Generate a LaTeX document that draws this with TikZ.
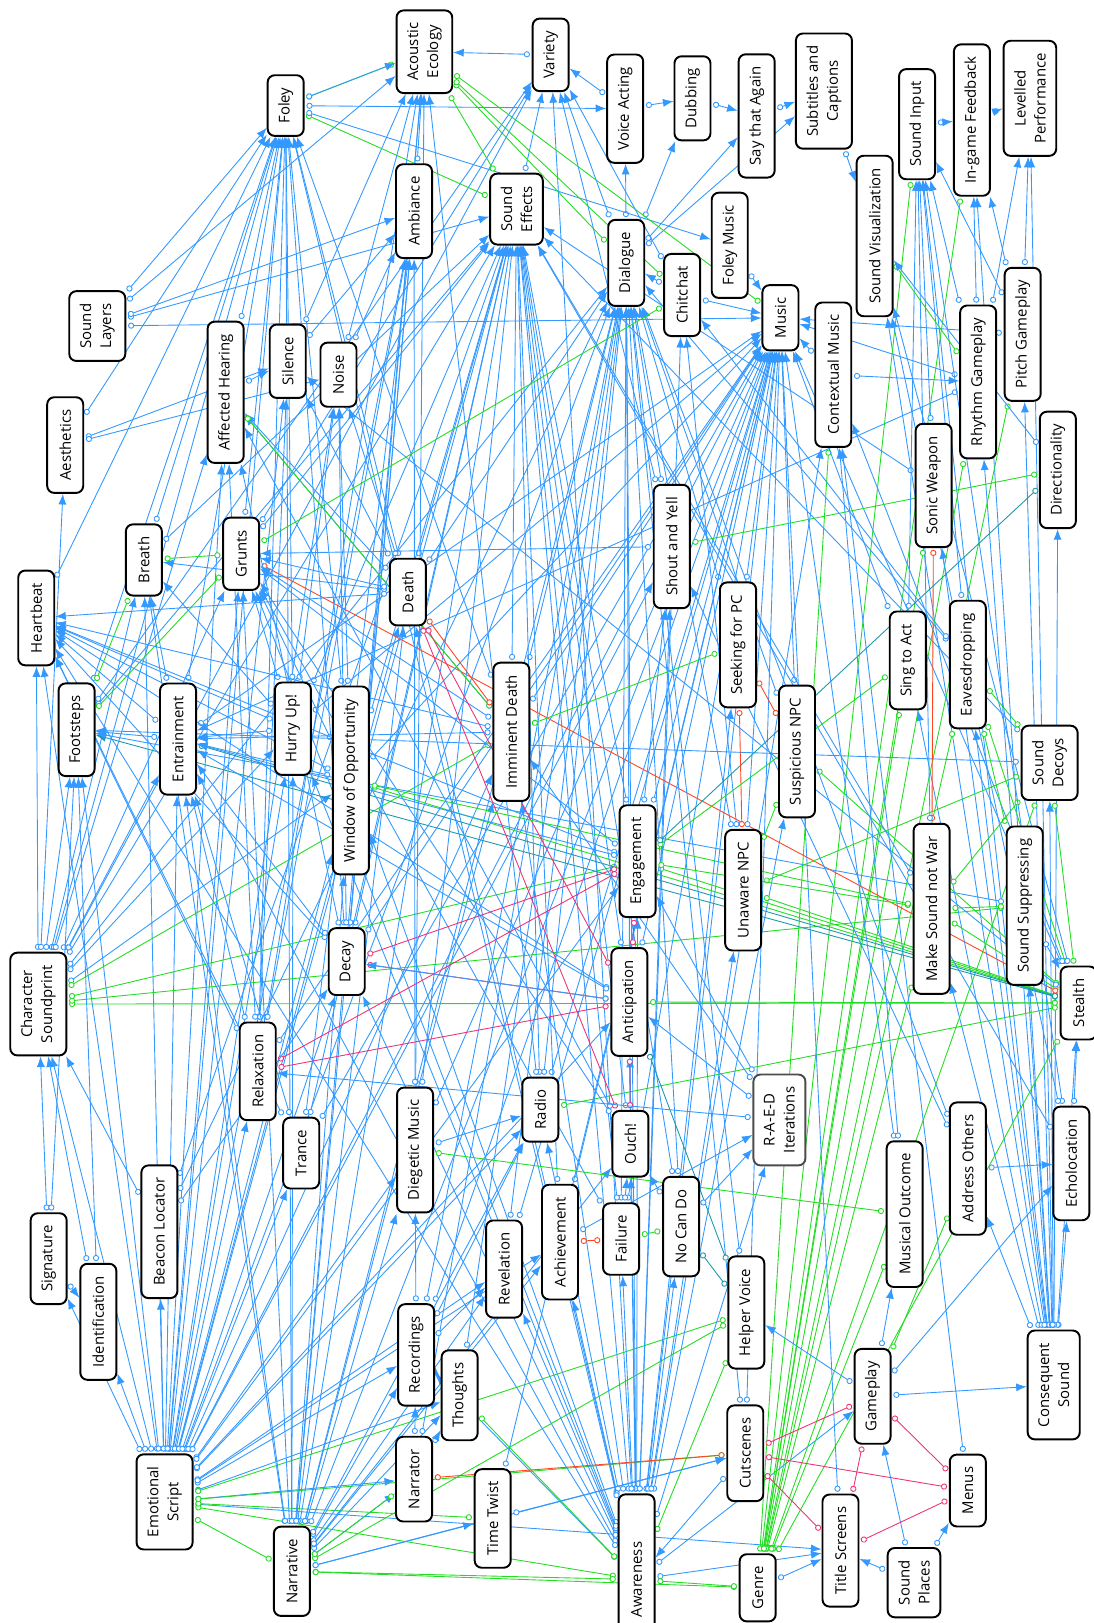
\documentclass[tikz,border=0pt]{standalone}
\usepackage{fontspec}
\setmainfont{Open Sans}
\usepackage{tikz}
\usetikzlibrary{arrows.meta, backgrounds}
\definecolor{eblue}{RGB}{51,153,255}
\definecolor{egreen}{RGB}{34,221,34}
\definecolor{ered}{RGB}{255,69,34}
\definecolor{epink}{RGB}{238,51,119}
\definecolor{eteal}{RGB}{26,153,170}
\tikzset{
  box/.style ={rectangle, rounded corners=4pt, draw, line width=1.1pt, rotate=90, align=center, fill=white,
               inner xsep=7pt, inner ysep=6pt, minimum height=20.5pt, font=\fontsize{8.5}{11.4}\selectfont},
  gbox/.style={box, draw=black!70},
  bl/.style  ={draw=eblue, line width=0.5pt, {Circle[fill=white, length=3.5pt]}-{Latex[length=6pt, width=4.6pt]}, shorten <=1pt},
  gr/.style  ={draw=egreen, line width=0.5pt, {Circle[fill=white, length=3.5pt]}-{Circle[fill=white, length=3.5pt]}, shorten <=1pt, shorten >=1pt},
  rd/.style  ={gr, draw=ered},
  pk/.style  ={gr, draw=epink},
  tl/.style  ={gr, draw=eteal},
  tla/.style ={bl, draw=eteal},
}
\begin{document}
\begin{tikzpicture}[x=0.0207cm, y=-0.0207cm]
  \useasboundingbox (0,0) rectangle (1056,1568);
  \node[box] (acoust) at (410,50) {Acoustic\\Ecology};
  \node[box] (variety) at (532,53) {Variety};
  \node[box] (voice) at (604,105) {Voice Acting};
  \node[box] (dubbing) at (669,95) {Dubbing};
  \node[box] (sayagain) at (731,112) {Say that Again};
  \node[box] (subtitles) at (796,88) {Subtitles and\\Captions};
  \node[box] (sinput) at (886,120) {Sound Input};
  \node[box] (feedback) at (939,116) {In-game Feedback};
  \node[box] (levelled) at (995,95) {Levelled\\Performance};
  \node[box] (foley) at (276,102) {Foley};
  \node[box] (ambiance) at (400,204) {Ambiance};
  \node[box] (sfx) at (499,202) {Sound\\Effects};
  \node[box] (dialogue) at (605,254) {Dialogue};
  \node[box] (foleymus) at (705,237) {Foley Music};
  \node[box] (chitchat) at (659,285) {Chitchat};
  \node[box] (music) at (754,307) {Music};
  \node[box] (soundvis) at (845,228) {Sound Visualization};
  \node[box] (ctxmusic) at (805,362) {Contextual Music};
  \node[box] (rhythm) at (945,369) {Rhythm Gameplay};
  \node[box] (pitch) at (988,323) {Pitch Gameplay};
  \node[box] (layers) at (94,315) {Sound\\Layers};
  \node[box] (affected) at (218,379) {Affected Hearing};
  \node[box] (silence) at (278,349) {Silence};
  \node[box] (noise) at (327,362) {Noise};
  \node[box] (aesth) at (63,430) {Aesthetics};
  \node[box] (direction) at (1022,454) {Directionality};
  \node[box] (sonic) at (902,469) {Sonic Weapon};
  \node[box] (breath) at (139,541) {Breath};
  \node[box] (grunts) at (233,535) {Grunts};
  \node[box] (death) at (394,572) {Death};
  \node[box] (shout) at (649,528) {Shout and Yell};
  \node[box] (heart) at (35,597) {Heartbeat};
  \node[box] (seeking) at (713,623) {Seeking for PC};
  \node[box] (singact) at (877,638) {Sing to Act};
  \node[box] (eaves) at (935,642) {Eavesdropping};
  \node[box] (footsteps) at (74,705) {Footsteps};
  \node[box] (entrain) at (172,714) {Entrainment};
  \node[box] (hurry) at (283,704) {Hurry Up!};
  \node[box] (window) at (339,754) {Window of Opportunity};
  \node[box] (imminent) at (494,707) {Imminent Death};
  \node[box] (suspicious) at (770,726) {Suspicious NPC};
  \node[box] (decoys) at (1014,737) {Sound\\Decoys};
  \node[box] (engage) at (616,832) {Engagement};
  \node[box] (unaware) at (718,860) {Unaware NPC};
  \node[box] (makesound) at (900,878) {Make Sound not War};
  \node[box] (suppress) at (990,875) {Sound Suppressing};
  \node[box] (decay) at (335,929) {Decay};
  \node[box] (soundprint) at (37,970) {Character\\Soundprint};
  \node[box] (anticip) at (608,968) {Anticipation};
  \node[box] (stealth) at (1042,969) {Stealth};
  \node[box] (relax) at (249,1035) {Relaxation};
  \node[box] (radio) at (522,1072) {Radio};
  \node[box] (trance) at (291,1114) {Trance};
  \node[box] (diegetic) at (401,1111) {Diegetic Music};
  \node[box] (ouch) at (609,1105) {Ouch!};
  \node[gbox] (raed) at (753,1082) {R-A-E-D\\Iterations};
  \node[box] (address) at (935,1129) {Address Others};
  \node[box] (echo) at (1035,1124) {Echolocation};
  \node[box] (musout) at (874,1173) {Musical Outcome};
  \node[box] (beacon) at (154,1190) {Beacon Locator};
  \node[box] (signature) at (47,1216) {Signature};
  \node[box] (revel) at (487,1226) {Revelation};
  \node[box] (achieve) at (541,1200) {Achievement};
  \node[box] (failure) at (600,1197) {Failure};
  \node[box] (nocando) at (658,1185) {No Can Do};
  \node[box] (helper) at (721,1268) {Helper Voice};
  \node[box] (ident) at (95,1277) {Identification};
  \node[box] (record) at (402,1309) {Recordings};
  \node[box] (thoughts) at (444,1348) {Thoughts};
  \node[box] (gameplay) at (843,1349) {Gameplay};
  \node[box] (conseq) at (1018,1338) {Consequent\\Sound};
  \node[box] (narrator) at (400,1429) {Narrator};
  \node[box] (cutscenes) at (720,1404) {Cutscenes};
  \node[box] (menus) at (935,1440) {Menus};
  \node[box] (emo) at (159,1451) {Emotional\\Script};
  \node[box] (timetwist) at (476,1467) {Time Twist};
  \node[box] (narrative) at (282,1518) {Narrative};
  \node[box, minimum width=97pt] (awareness) at (615,1526) {Awareness};
  \node[box] (genre) at (732,1534) {Genre};
  \node[box] (titles) at (812,1498) {Title Screens};
  \node[box] (places) at (883,1529) {Sound\\Places};
  \begin{scope}[on background layer]
  \fill[white] (0,0) rectangle (1056,1568);
  \draw[bl] (emo) -- (foley);
  \draw[bl] (emo) -- (heart);
  \draw[bl] (emo) -- (breath);
  \draw[bl] (emo) -- (grunts);
  \draw[bl] (emo) -- (footsteps);
  \draw[bl] (emo) -- (entrain);
  \draw[bl] (emo) -- (soundprint);
  \draw[bl] (emo) -- (ident);
  \draw[bl] (emo) -- (beacon);
  \draw[bl] (emo) -- (relax);
  \draw[bl] (emo) -- (trance);
  \draw[bl] (emo) -- (hurry);
  \draw[bl] (emo) -- (window);
  \draw[bl] (emo) -- (death);
  \draw[bl] (emo) -- (silence);
  \draw[bl] (emo) -- (noise);
  \draw[bl] (emo) -- (affected);
  \draw[bl] (emo) -- (ambiance);
  \draw[bl] (emo) -- (sfx);
  \draw[bl] (emo) -- (dialogue);
  \draw[bl] (emo) -- (music);
  \draw[bl] (emo) -- (decay);
  \draw[bl] (emo) -- (diegetic);
  \draw[bl] (emo) -- (imminent);
  \draw[bl] (emo) -- (record);
  \draw[bl] (emo) -- (thoughts);
  \draw[bl] (emo) -- (narrator);
  \draw[bl] (emo) -- (radio);
  \draw[bl] (emo) -- (revel);
  \draw[bl] (emo) -- (achieve);
  \draw[bl] (emo) -- (anticip);
  \draw[bl] (emo) -- (engage);
  \draw[bl] (emo) -- (shout);
  \draw[bl] (emo) -- (signature);
  \draw[bl] (emo) -- (titles);
  \draw[gr] (emo) -- (narrative);
  \draw[gr] (emo) -- (awareness);
  \draw[gr] (emo) -- (timetwist);
  \draw[gr] (emo) -- (helper);
  \draw[gr] (emo) -- (cutscenes);
  \draw[bl] (narrative) -- (foley);
  \draw[bl] (narrative) -- (sfx);
  \draw[bl] (narrative) -- (dialogue);
  \draw[bl] (narrative) -- (music);
  \draw[bl] (narrative) -- (ambiance);
  \draw[bl] (narrative) -- (grunts);
  \draw[bl] (narrative) -- (breath);
  \draw[bl] (narrative) -- (death);
  \draw[bl] (narrative) -- (window);
  \draw[bl] (narrative) -- (hurry);
  \draw[bl] (narrative) -- (diegetic);
  \draw[bl] (narrative) -- (record);
  \draw[bl] (narrative) -- (thoughts);
  \draw[bl] (narrative) -- (narrator);
  \draw[bl] (narrative) -- (timetwist);
  \draw[bl] (narrative) -- (revel);
  \draw[bl] (narrative) -- (achieve);
  \draw[bl] (narrative) -- (cutscenes);
  \draw[bl] (narrative) -- (imminent);
  \draw[bl] (narrative) -- (radio);
  \draw[bl] (narrative) -- (ouch);
  \draw[bl] (narrative) -- (entrain);
  \draw[bl] (narrative) -- (acoust);
  \draw[gr] (narrative) -- (awareness);
  \draw[gr] (narrative) -- (genre);
  \draw[gr] (narrative) -- (helper);
  \draw[gr] (narrative) -- (narrator);
  \draw[bl] (awareness) -- (sfx);
  \draw[bl] (awareness) -- (dialogue);
  \draw[bl] (awareness) -- (music);
  \draw[bl] (awareness) -- (shout);
  \draw[bl] (awareness) -- (imminent);
  \draw[bl] (awareness) -- (engage);
  \draw[bl] (awareness) -- (anticip);
  \draw[bl] (awareness) -- (unaware);
  \draw[bl] (awareness) -- (suspicious);
  \draw[bl] (awareness) -- (seeking);
  \draw[bl] (awareness) -- (ouch);
  \draw[bl] (awareness) -- (failure);
  \draw[bl] (awareness) -- (nocando);
  \draw[bl] (awareness) -- (achieve);
  \draw[bl] (awareness) -- (revel);
  \draw[bl] (awareness) -- (radio);
  \draw[bl] (awareness) -- (window);
  \draw[bl] (awareness) -- (decay);
  \draw[bl] (awareness) -- (hurry);
  \draw[bl] (awareness) -- (entrain);
  \draw[bl] (awareness) -- (heart);
  \draw[bl] (awareness) -- (grunts);
  \draw[bl] (awareness) -- (death);
  \draw[bl] (awareness) -- (record);
  \draw[bl] (awareness) -- (titles);
  \draw[bl] (awareness) -- (gameplay);
  \draw[bl] (awareness) -- (chitchat);
  \draw[bl] (awareness) -- (raed);
  \draw[bl] (awareness) -- (ctxmusic);
  \draw[bl] (awareness) -- (variety);
  \draw[bl] (awareness) -- (foley);
  \draw[gr] (awareness) -- (genre);
  \draw[gr] (awareness) -- (thoughts);
  \draw[gr] (awareness) -- (helper);
  \draw[bl] (soundprint) -- (heart);
  \draw[bl] (soundprint) -- (aesth);
  \draw[bl] (soundprint) -- (footsteps);
  \draw[bl] (soundprint) -- (breath);
  \draw[bl] (soundprint) -- (foley);
  \draw[bl] (soundprint) -- (grunts);
  \draw[bl] (soundprint) -- (entrain);
  \draw[bl] (soundprint) -- (affected);
  \draw[bl] (soundprint) -- (sfx);
  \draw[bl] (soundprint) -- (window);
  \draw[bl] (soundprint) -- (hurry);
  \draw[bl] (soundprint) -- (dialogue);
  \draw[bl] (soundprint) -- (variety);
  \draw[gr] (soundprint) -- (stealth);
  \draw[gr] (soundprint) -- (suppress);
  \draw[gr] (soundprint) -- (engage);
  \draw[gr] (soundprint) -- (imminent);
  \draw[bl] (signature) -- (soundprint);
  \draw[bl] (ident) -- (soundprint);
  \draw[bl] (beacon) -- (soundprint);
  \draw[bl] (signature) -- (ident);
  \draw[bl] (conseq) -- (sinput);
  \draw[bl] (conseq) -- (feedback);
  \draw[bl] (conseq) -- (echo);
  \draw[bl] (conseq) -- (address);
  \draw[bl] (conseq) -- (decoys);
  \draw[bl] (conseq) -- (suppress);
  \draw[bl] (conseq) -- (stealth);
  \draw[bl] (conseq) -- (makesound);
  \draw[bl] (conseq) -- (eaves);
  \draw[bl] (conseq) -- (singact);
  \draw[bl] (conseq) -- (sonic);
  \draw[bl] (conseq) -- (rhythm);
  \draw[bl] (conseq) -- (pitch);
  \draw[bl] (conseq) -- (direction);
  \draw[bl] (conseq) -- (levelled);
  \draw[bl] (conseq) -- (soundvis);
  \draw[bl] (gameplay) -- (conseq);
  \draw[gr] (genre) -- (sinput);
  \draw[gr] (genre) -- (feedback);
  \draw[gr] (genre) -- (rhythm);
  \draw[gr] (genre) -- (eaves);
  \draw[gr] (genre) -- (singact);
  \draw[gr] (genre) -- (stealth);
  \draw[gr] (genre) -- (makesound);
  \draw[gr] (genre) -- (musout);
  \draw[gr] (genre) -- (ctxmusic);
  \draw[gr] (genre) -- (pitch);
  \draw[gr] (genre) -- (sonic);
  \draw[gr] (genre) -- (decoys);
  \draw[bl] (genre) -- (titles);
  \draw[bl] (cutscenes) -- (awareness);
  \draw[bl] (places) -- (titles);
  \draw[bl] (places) -- (menus);
  \draw[bl] (places) -- (gameplay);
  \draw[pk] (gameplay) -- (titles);
  \draw[pk] (menus) -- (titles);
  \draw[pk] (gameplay) -- (menus);
  \draw[pk] (cutscenes) -- (menus);
  \draw[pk] (cutscenes) -- (gameplay);
  \draw[pk] (cutscenes) -- (titles);
  \draw[bl] (gameplay) -- (musout);
  \draw[bl] (gameplay) -- (echo);
  \draw[bl] (gameplay) -- (helper);
  \draw[gr] (gameplay) -- (address);
  \draw[rd] (narrator) -- (cutscenes);
  \draw[bl] (titles) -- (music);
  \draw[bl] (menus) -- (ctxmusic);
  \draw[gr] (makesound) -- (stealth);
  \draw[gr] (unaware) -- (stealth);
  \draw[gr] (suspicious) -- (stealth);
  \draw[gr] (eaves) -- (stealth);
  \draw[gr] (decoys) -- (stealth);
  \draw[gr] (engage) -- (stealth);
  \draw[gr] (anticip) -- (stealth);
  \draw[gr] (window) -- (stealth);
  \draw[gr] (radio) -- (stealth);
  \draw[bl] (suppress) -- (stealth);
  \draw[bl] (echo) -- (stealth);
  \draw[bl] (stealth) -- (music);
  \draw[bl] (stealth) -- (silence);
  \draw[bl] (stealth) -- (soundvis);
  \draw[bl] (stealth) -- (ctxmusic);
  \draw[rd] (grunts) -- (stealth);
  \draw[tla] (stealth) -- (footsteps);
  \draw[tl] (entrain) -- (stealth);
  \draw[bl] (dialogue) -- (voice);
  \draw[bl] (dialogue) -- (dubbing);
  \draw[bl] (dialogue) -- (sayagain);
  \draw[bl] (dialogue) -- (subtitles);
  \draw[bl] (voice) -- (dubbing);
  \draw[bl] (voice) -- (variety);
  \draw[bl] (sayagain) -- (subtitles);
  \draw[bl] (dubbing) -- (sayagain);
  \draw[bl] (subtitles) -- (soundvis);
  \draw[bl] (chitchat) -- (dialogue);
  \draw[bl] (shout) -- (dialogue);
  \draw[bl] (radio) -- (dialogue);
  \draw[bl] (narrator) -- (dialogue);
  \draw[bl] (thoughts) -- (dialogue);
  \draw[bl] (record) -- (dialogue);
  \draw[bl] (helper) -- (dialogue);
  \draw[bl] (address) -- (dialogue);
  \draw[bl] (seeking) -- (dialogue);
  \draw[bl] (suspicious) -- (dialogue);
  \draw[bl] (unaware) -- (dialogue);
  \draw[bl] (imminent) -- (dialogue);
  \draw[bl] (death) -- (dialogue);
  \draw[bl] (ouch) -- (dialogue);
  \draw[bl] (beacon) -- (dialogue);
  \draw[bl] (nocando) -- (dialogue);
  \draw[bl] (failure) -- (dialogue);
  \draw[bl] (eaves) -- (dialogue);
  \draw[bl] (revel) -- (dialogue);
  \draw[bl] (cutscenes) -- (dialogue);
  \draw[bl] (foleymus) -- (music);
  \draw[bl] (ctxmusic) -- (music);
  \draw[bl] (chitchat) -- (music);
  \draw[bl] (diegetic) -- (music);
  \draw[bl] (radio) -- (music);
  \draw[bl] (musout) -- (music);
  \draw[bl] (rhythm) -- (music);
  \draw[bl] (pitch) -- (music);
  \draw[bl] (entrain) -- (music);
  \draw[bl] (relax) -- (music);
  \draw[bl] (trance) -- (music);
  \draw[bl] (decay) -- (music);
  \draw[bl] (hurry) -- (music);
  \draw[bl] (window) -- (music);
  \draw[bl] (imminent) -- (music);
  \draw[bl] (engage) -- (music);
  \draw[bl] (anticip) -- (music);
  \draw[bl] (suspicious) -- (music);
  \draw[bl] (unaware) -- (music);
  \draw[bl] (achieve) -- (music);
  \draw[bl] (failure) -- (music);
  \draw[bl] (revel) -- (music);
  \draw[bl] (layers) -- (music);
  \draw[bl] (cutscenes) -- (music);
  \draw[bl] (seeking) -- (music);
  \draw[bl] (timetwist) -- (music);
  \draw[bl] (record) -- (music);
  \draw[bl] (singact) -- (music);
  \draw[bl] (footsteps) -- (sfx);
  \draw[bl] (breath) -- (sfx);
  \draw[bl] (grunts) -- (sfx);
  \draw[bl] (death) -- (sfx);
  \draw[bl] (decay) -- (sfx);
  \draw[bl] (ouch) -- (sfx);
  \draw[bl] (sonic) -- (sfx);
  \draw[bl] (radio) -- (sfx);
  \draw[bl] (trance) -- (sfx);
  \draw[bl] (window) -- (sfx);
  \draw[bl] (hurry) -- (sfx);
  \draw[bl] (imminent) -- (sfx);
  \draw[bl] (anticip) -- (sfx);
  \draw[bl] (engage) -- (sfx);
  \draw[bl] (failure) -- (sfx);
  \draw[bl] (achieve) -- (sfx);
  \draw[bl] (nocando) -- (sfx);
  \draw[bl] (makesound) -- (sfx);
  \draw[bl] (decoys) -- (sfx);
  \draw[bl] (echo) -- (sfx);
  \draw[bl] (diegetic) -- (sfx);
  \draw[bl] (layers) -- (sfx);
  \draw[bl] (beacon) -- (sfx);
  \draw[bl] (sfx) -- (variety);
  \draw[bl] (footsteps) -- (foley);
  \draw[bl] (breath) -- (foley);
  \draw[bl] (grunts) -- (foley);
  \draw[bl] (heart) -- (foley);
  \draw[bl] (entrain) -- (foley);
  \draw[bl] (hurry) -- (foley);
  \draw[bl] (death) -- (foley);
  \draw[bl] (window) -- (foley);
  \draw[bl] (imminent) -- (foley);
  \draw[bl] (decay) -- (foley);
  \draw[bl] (aesth) -- (foley);
  \draw[bl] (layers) -- (foley);
  \draw[bl] (affected) -- (foley);
  \draw[bl] (relax) -- (foley);
  \draw[gr] (foley) -- (acoust);
  \draw[bl] (foley) -- (acoust);
  \draw[gr] (foley) -- (sfx);
  \draw[bl] (foley) -- (foleymus);
  \draw[bl] (foley) -- (voice);
  \draw[bl] (ambiance) -- (acoust);
  \draw[bl] (silence) -- (acoust);
  \draw[bl] (noise) -- (acoust);
  \draw[bl] (variety) -- (acoust);
  \draw[bl] (layers) -- (acoust);
  \draw[bl] (diegetic) -- (acoust);
  \draw[bl] (radio) -- (acoust);
  \draw[bl] (decay) -- (acoust);
  \draw[bl] (relax) -- (acoust);
  \draw[gr] (acoust) -- (dialogue);
  \draw[gr] (acoust) -- (music);
  \draw[gr] (acoust) -- (sfx);
  \draw[gr] (acoust) -- (chitchat);
  \draw[bl] (dialogue) -- (variety);
  \draw[bl] (footsteps) -- (variety);
  \draw[bl] (grunts) -- (variety);
  \draw[bl] (shout) -- (variety);
  \draw[bl] (chitchat) -- (variety);
  \draw[bl] (layers) -- (ambiance);
  \draw[bl] (silence) -- (ambiance);
  \draw[bl] (noise) -- (ambiance);
  \draw[bl] (diegetic) -- (ambiance);
  \draw[bl] (relax) -- (ambiance);
  \draw[bl] (trance) -- (ambiance);
  \draw[bl] (decay) -- (ambiance);
  \draw[bl] (aesth) -- (silence);
  \draw[bl] (aesth) -- (noise);
  \draw[bl] (affected) -- (silence);
  \draw[bl] (death) -- (silence);
  \draw[bl] (relax) -- (silence);
  \draw[bl] (decay) -- (noise);
  \draw[bl] (hurry) -- (noise);
  \draw[bl] (window) -- (noise);
  \draw[bl] (death) -- (noise);
  \draw[bl] (death) -- (affected);
  \draw[bl] (imminent) -- (affected);
  \draw[bl] (decay) -- (affected);
  \draw[bl] (relax) -- (affected);
  \draw[bl] (ouch) -- (affected);
  \draw[gr] (affected) -- (imminent);
  \draw[gr] (breath) -- (grunts);
  \draw[gr] (footsteps) -- (breath);
  \draw[gr] (footsteps) -- (grunts);
  \draw[gr] (grunts) -- (chitchat);
  \draw[bl] (entrain) -- (breath);
  \draw[bl] (death) -- (breath);
  \draw[bl] (hurry) -- (breath);
  \draw[bl] (death) -- (grunts);
  \draw[bl] (hurry) -- (grunts);
  \draw[bl] (window) -- (grunts);
  \draw[bl] (imminent) -- (grunts);
  \draw[bl] (ouch) -- (grunts);
  \draw[bl] (failure) -- (grunts);
  \draw[bl] (engage) -- (grunts);
  \draw[bl] (shout) -- (grunts);
  \draw[bl] (imminent) -- (heart);
  \draw[bl] (hurry) -- (heart);
  \draw[bl] (window) -- (heart);
  \draw[bl] (relax) -- (heart);
  \draw[bl] (entrain) -- (heart);
  \draw[bl] (death) -- (heart);
  \draw[bl] (anticip) -- (heart);
  \draw[bl] (engage) -- (heart);
  \draw[bl] (trance) -- (heart);
  \draw[bl] (decay) -- (heart);
  \draw[bl] (hurry) -- (entrain);
  \draw[bl] (window) -- (entrain);
  \draw[bl] (imminent) -- (entrain);
  \draw[bl] (decay) -- (entrain);
  \draw[bl] (relax) -- (entrain);
  \draw[bl] (trance) -- (entrain);
  \draw[bl] (anticip) -- (entrain);
  \draw[bl] (engage) -- (entrain);
  \draw[bl] (rhythm) -- (entrain);
  \draw[bl] (entrain) -- (footsteps);
  \draw[bl] (suppress) -- (footsteps);
  \draw[bl] (decoys) -- (footsteps);
  \draw[bl] (signature) -- (footsteps);
  \draw[bl] (ident) -- (footsteps);
  \draw[rd] (death) -- (imminent);
  \draw[pk] (death) -- (ouch);
  \draw[pk] (death) -- (anticip);
  \draw[pk] (decay) -- (engage);
  \draw[pk] (decay) -- (anticip);
  \draw[pk] (relax) -- (engage);
  \draw[pk] (relax) -- (anticip);
  \draw[pk] (engage) -- (anticip);
  \draw[pk] (ouch) -- (anticip);
  \draw[bl] (anticip) -- (decay);
  \draw[bl] (engage) -- (shout);
  \draw[gr] (shout) -- (direction);
  \draw[rd] (seeking) -- (unaware);
  \draw[rd] (seeking) -- (suspicious);
  \draw[gr] (suspicious) -- (unaware);
  \draw[gr] (unaware) -- (decoys);
  \draw[gr] (eaves) -- (decoys);
  \draw[gr] (eaves) -- (suppress);
  \draw[gr] (makesound) -- (decoys);
  \draw[gr] (makesound) -- (engage);
  \draw[gr] (suppress) -- (makesound);
  \draw[gr] (imminent) -- (seeking);
  \draw[gr] (window) -- (makesound);
  \draw[gr] (singact) -- (engage);
  \draw[rd] (sonic) -- (makesound);
  \draw[tl] (direction) -- (engage);
  \draw[tl] (nocando) -- (helper);
  \draw[tl] (helper) -- (anticip);
  \draw[bl] (singact) -- (sinput);
  \draw[bl] (eaves) -- (sinput);
  \draw[bl] (sonic) -- (sinput);
  \draw[bl] (makesound) -- (sinput);
  \draw[bl] (rhythm) -- (sinput);
  \draw[bl] (pitch) -- (sinput);
  \draw[bl] (echo) -- (sinput);
  \draw[bl] (eaves) -- (chitchat);
  \draw[bl] (unaware) -- (chitchat);
  \draw[bl] (sinput) -- (feedback);
  \draw[bl] (feedback) -- (levelled);
  \draw[bl] (pitch) -- (levelled);
  \draw[bl] (rhythm) -- (levelled);
  \draw[bl] (pitch) -- (feedback);
  \draw[bl] (rhythm) -- (feedback);
  \draw[gr] (soundvis) -- (rhythm);
  \draw[bl] (ctxmusic) -- (rhythm);
  \draw[bl] (direction) -- (soundvis);
  \draw[bl] (echo) -- (soundvis);
  \draw[bl] (diegetic) -- (radio);
  \draw[bl] (record) -- (radio);
  \draw[bl] (record) -- (diegetic);
  \draw[bl] (record) -- (revel);
  \draw[bl] (record) -- (thoughts);
  \draw[gr] (diegetic) -- (musout);
  \draw[bl] (narrator) -- (thoughts);
  \draw[bl] (narrator) -- (record);
  \draw[bl] (timetwist) -- (cutscenes);
  \draw[bl] (address) -- (shout);
  \draw[bl] (address) -- (echo);
  \draw[bl] (musout) -- (ctxmusic);
  \draw[bl] (achieve) -- (raed);
  \draw[bl] (nocando) -- (raed);
  \draw[bl] (failure) -- (ouch);
  \draw[bl] (nocando) -- (ouch);
  \draw[rd] (achieve) -- (failure);
  \draw[gr] (failure) -- (nocando);
  \draw[bl] (raed) -- (relax);
  \draw[bl] (raed) -- (anticip);
  \draw[bl] (raed) -- (engage);
  \draw[bl] (raed) -- (imminent);
  \draw[bl] (beacon) -- (decay);
  \end{scope}
\end{tikzpicture}
\end{document}
